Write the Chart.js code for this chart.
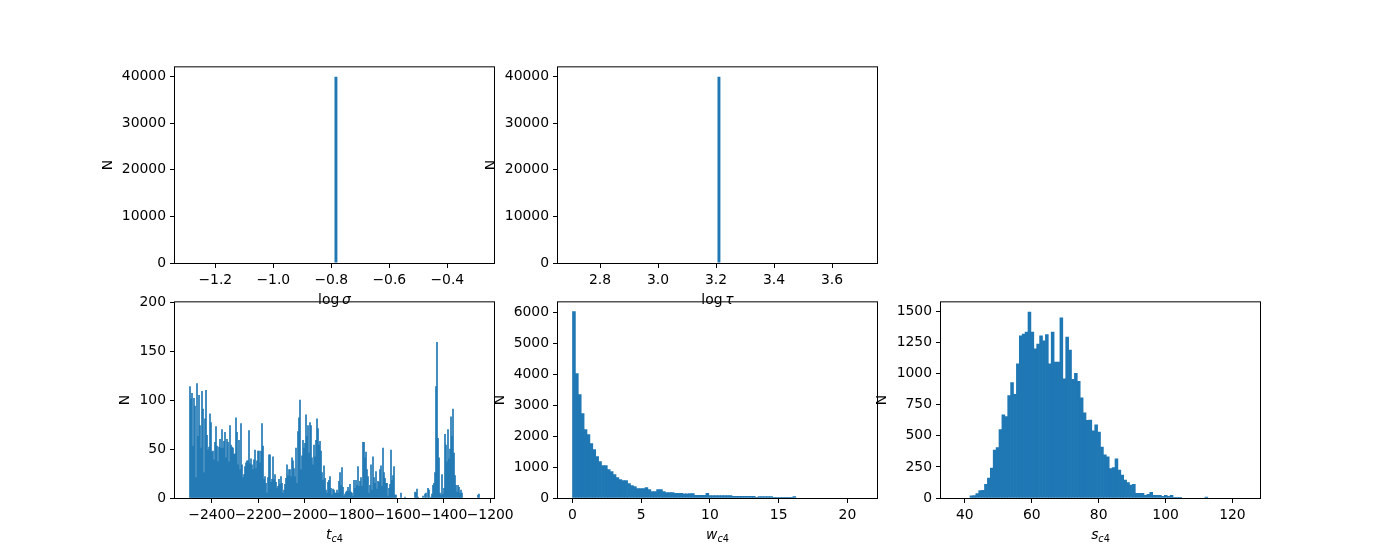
<!DOCTYPE html>
<html><head><meta charset="utf-8">
<script src="https://cdn.jsdelivr.net/npm/chart.js@4/dist/chart.umd.min.js"></script>
<style>
html,body{margin:0;padding:0;background:#fff;}
#fig{position:relative;width:1400px;height:560px;overflow:hidden;background:#fff;}
#fig canvas{position:absolute;}
</style></head><body><div id="fig"></div>
<script>
// ================= DATA =================
// constant-valued parameters (all 40000 samples share one value)
const sigmaValue = -0.789;
const sigmaCount = 40000;
const tauValue = 3.205;
const tauCount = 40000;
const constBinCount = 100;

// t_c4 histogram
const tRange = [-2496, -1246];
const tCounts = [
 114,101,107,53,102,94,21,117,63,105,
 74,51,109,91,26,81,110,64,49,52,
 86,77,47,48,39,57,73,53,37,52,
 60,51,70,51,58,67,41,60,57,37,
 74,54,52,51,45,45,82,67,34,59,
 29,76,34,21,24,32,36,38,38,69,
 35,40,34,29,39,49,30,38,48,48,
 36,48,76,53,19,22,15,5,21,44,
 44,16,19,42,19,24,16,10,12,19,
 14,22,15,5,8,14,20,34,23,29,
 29,
 22,41,38,30,22,51,15,68,82,100,
 29,43,59,51,56,85,63,74,46,77,
 74,41,34,54,42,59,81,71,54,58,
 48,26,18,33,20,8,5,16,18,22,
 10,3,9,8,5,5,8,5,17,26,
 13,31,11,2,4,6,7,11,7,14,
 6,5,2,18,10,18,13,32,12,17,
 21,12,57,57,41,47,29,22,5,13,
 34,8,42,21,15,27,9,17,16,29,
 33,12,51,26,20,15,15,2,10,14,
 49,18,23,
 32,3,3,0,0,0,0,5,0,0,
 0,1,0,0,0,0,0,0,0,0,
 0,6,5,9,1,0,0,0,0,2,
 0,4,5,0,10,8,0,1,4,13,
 15,26,114,159,61,41,5,3,24,4,
 10,65,54,37,70,40,50,83,63,91,
 46,23,13,6,13,11,5,8,5,0,
 0,0,0,0,0,0,0,0,0,0,
 0,0,0,0,3,4
];

// w_c4 histogram
const wRange = [0, 21.1];
const wCounts = [
 6013,4013,3335,2723,2206,2045,1755,1561,1335,1174,
 1045,1045,916,852,755,658,594,561,561,465,
 400,368,303,303,303,335,271,206,206,271,
 271,206,174,174,174,150,150,150,131,131,
 140,140,90,90,90,90,150,77,77,77,
 77,77,77,77,77,56,56,56,56,56,
 56,56,56,20,45,45,45,45,45,5,
 5,4,5,3,4,5,45,0,0,0,
 0,0,0,0,0,0,0,0,0,0,
 0,0,0,0,0,0,0,0,0,0
];

// s_c4 histogram
const sRange = [37.2, 123.9];
const sCounts = [
 0,0,0,0,0,18,20,35,60,62,
 110,160,240,385,405,550,670,655,825,930,
 835,1080,1305,1320,1335,1497,1335,1200,1240,1305,
 1265,1315,1080,1335,1095,1095,1450,960,1295,1190,
 955,1003,940,807,685,625,628,540,588,530,
 410,348,332,236,244,316,225,185,145,125,
 105,110,37,37,37,21,29,45,21,21,
 21,13,21,13,21,5,5,5,0,0,
 0,0,0,0,0,0,8,0,0,0,
 0,0,0,0,0,0,0,0,0,0
];

// tick labels
const sigmaTicks = [-1.2, -1.0, -0.8, -0.6, -0.4];
const tauTicks = [2.8, 3.0, 3.2, 3.4, 3.6];
const tTicks = [-2400, -2200, -2000, -1800, -1600, -1400, -1200];
const wTicks = [0, 5, 10, 15, 20];
const sTicks = [40, 60, 80, 100, 120];
const constYTicks = [0, 10000, 20000, 30000, 40000];
const tYTicks = [0, 50, 100, 150, 200];
const wYTicks = [0, 1000, 2000, 3000, 4000, 5000, 6000];
const sYTicks = [0, 250, 500, 750, 1000, 1250, 1500];
const tYMax = 200;
const sYMax = 1575;

// ================= LAYOUT / DRAWING =================
const AX_W = 319, AX_H = 196;
const COLS = [175, 558, 941], ROWS = [67, 302];
const PADL = 90, PADT = 12, PADR = 35, PADB = 50;
const FONT = {family: '"DejaVu Sans", sans-serif', size: 13.9};
const BLUE = '#1f77b4';

function constHist(value, count, n) {
  const lo = value - 0.5, hi = value + 0.5;
  const idx = Math.min(n - 1, Math.floor((value - lo) / (hi - lo) * n));
  const counts = new Array(n).fill(0);
  counts[idx] = count;
  return {range: [lo, hi], counts};
}

function toPoints(range, counts) {
  const w = (range[1] - range[0]) / counts.length;
  return counts.map((c, i) => ({x: range[0] + (i + 0.5) * w, y: c === 0 ? null : c}));
}

function fmt(dec) {
  return v => (dec ? Number(v).toFixed(dec) : String(Math.round(v))).replace('-', '\u2212');
}

function makePlugins(parts) {
  return [{
    id: 'frame',
    afterDatasetsDraw(chart) {
      const {ctx, chartArea: a} = chart;
      ctx.save();
      ctx.strokeStyle = '#000';
      ctx.lineWidth = 1;
      ctx.strokeRect(a.left - 0.5, a.top - 0.5, a.right - a.left + 1, a.bottom - a.top + 1);
      ctx.restore();
    }
  }, {
    id: 'mathLabel',
    afterDraw(chart) {
      const {ctx, chartArea: a} = chart;
      const fontFor = p => (p.italic ? 'italic ' : '') + (p.sub ? 9.7 : 13.9) + 'px "DejaVu Sans"';
      ctx.save();
      let total = 0;
      const widths = parts.map(p => { ctx.font = fontFor(p); const w = ctx.measureText(p.text).width; total += w; return w; });
      let x = (a.left + a.right) / 2 - total / 2;
      const y = a.bottom + 41;
      ctx.fillStyle = '#000';
      ctx.textAlign = 'left';
      ctx.textBaseline = 'alphabetic';
      parts.forEach((p, i) => { ctx.font = fontFor(p); ctx.fillText(p.text, x, y + (p.sub ? 3 : 0)); x += widths[i]; });
      ctx.restore();
    }
  }];
}

function axisCommon(ticksArr, dec) {
  return {
    grid: {display: true, drawOnChartArea: false, drawTicks: true, tickLength: 5, tickColor: '#000', tickWidth: 1, offset: false},
    border: {display: false},
    ticks: {autoSkip: false, maxRotation: 0, minRotation: 0, padding: 4, color: '#000', font: FONT, callback: fmt(dec)},
    afterBuildTicks: s => { s.ticks = ticksArr.map(v => ({value: v})); }
  };
}

function histChart(spec) {
  const fig = document.getElementById('fig');
  const cv = document.createElement('canvas');
  cv.width = PADL + AX_W + PADR;
  cv.height = PADT + AX_H + PADB;
  cv.style.left = (spec.left - PADL) + 'px';
  cv.style.top = (spec.top - PADT) + 'px';
  cv.style.width = cv.width + 'px';
  cv.style.height = cv.height + 'px';
  fig.appendChild(cv);

  const span = spec.range[1] - spec.range[0];
  const xmin = spec.range[0] - 0.05 * span, xmax = spec.range[1] + 0.05 * span;
  const ymax = spec.ymax !== undefined ? spec.ymax : 1.05 * Math.max(...spec.counts);

  const xs = Object.assign({type: 'linear', min: xmin, max: xmax, offset: false}, axisCommon(spec.xTicks, spec.xDec));
  xs.afterFit = s => { s.height = PADB; };
  const ys = Object.assign({type: 'linear', min: 0, max: ymax}, axisCommon(spec.yTicks, 0));
  ys.afterFit = s => { s.width = PADL; };
  ys.title = {display: true, text: 'N', color: '#000', font: FONT, padding: {top: PADL - spec.yGap - 8.34, bottom: 0}};

  new Chart(cv, {
    type: 'bar',
    data: {datasets: [{
      data: toPoints(spec.range, spec.counts),
      backgroundColor: BLUE, borderWidth: 0, inflateAmount: spec.inflate,
      barPercentage: 1, categoryPercentage: 1
    }]},
    options: {
      responsive: false, animation: false, devicePixelRatio: 1,
      layout: {padding: {left: 0, top: PADT, right: PADR, bottom: 0}},
      plugins: {legend: {display: false}, tooltip: {enabled: false}, title: {display: false}},
      scales: {x: xs, y: ys}
    },
    plugins: makePlugins(spec.label)
  });
}

const sigmaH = constHist(sigmaValue, sigmaCount, constBinCount);
const tauH = constHist(tauValue, tauCount, constBinCount);

histChart({left: COLS[0], top: ROWS[0], range: sigmaH.range, counts: sigmaH.counts, inflate: 0,
  xTicks: sigmaTicks, xDec: 1, yTicks: constYTicks, yGap: 67,
  label: [{text: 'log\u2009'}, {text: '\u03c3', italic: true}]});
histChart({left: COLS[1], top: ROWS[0], range: tauH.range, counts: tauH.counts, inflate: 0,
  xTicks: tauTicks, xDec: 1, yTicks: constYTicks, yGap: 67,
  label: [{text: 'log\u2009'}, {text: '\u03c4', italic: true}]});
histChart({left: COLS[0], top: ROWS[1], range: tRange, counts: tCounts, ymax: tYMax, inflate: 'auto',
  xTicks: tTicks, xDec: 0, yTicks: tYTicks, yGap: 50,
  label: [{text: 't', italic: true}, {text: 'c', italic: true, sub: true}, {text: '4', sub: true}]});
histChart({left: COLS[1], top: ROWS[1], range: wRange, counts: wCounts, inflate: 'auto',
  xTicks: wTicks, xDec: 0, yTicks: wYTicks, yGap: 58,
  label: [{text: 'w', italic: true}, {text: 'c', italic: true, sub: true}, {text: '4', sub: true}]});
histChart({left: COLS[2], top: ROWS[1], range: sRange, counts: sCounts, ymax: sYMax, inflate: 'auto',
  xTicks: sTicks, xDec: 0, yTicks: sYTicks, yGap: 59,
  label: [{text: 's', italic: true}, {text: 'c', italic: true, sub: true}, {text: '4', sub: true}]});
</script>
</body></html>
